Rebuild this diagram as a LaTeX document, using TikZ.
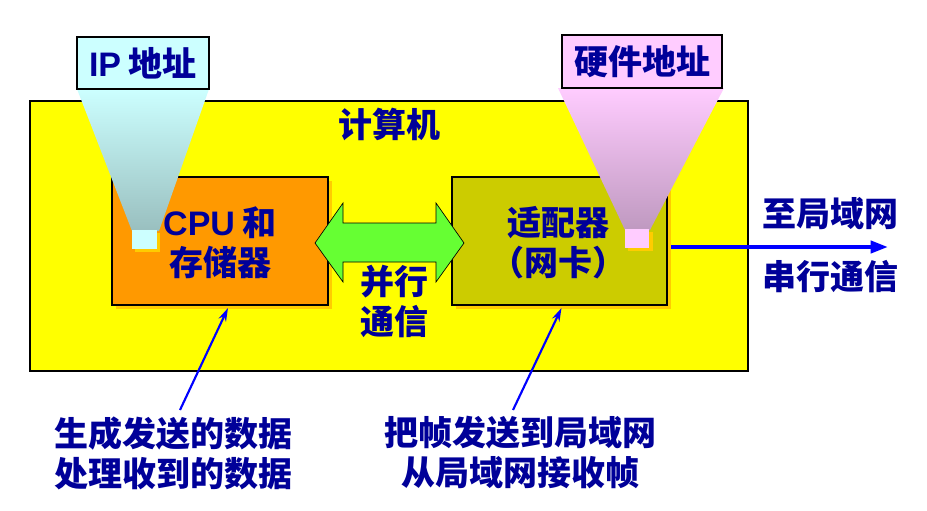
\documentclass[tikz,border=0pt]{standalone}
\usepackage{fontspec}
\setmainfont{Noto Sans CJK SC}
\newfontfamily\lat{Liberation Sans}
\usetikzlibrary{arrows.meta,fit,calc}
\definecolor{txt}{HTML}{000099}
\definecolor{bgyellow}{HTML}{FFFF00}
\definecolor{cpuorange}{HTML}{FF9900}
\definecolor{olive}{HTML}{CCCC00}
\definecolor{shad}{HTML}{FFCC00}
\definecolor{arrgreen}{HTML}{66FF33}
\definecolor{ipcyan}{HTML}{CCFFFF}
\definecolor{ipdark}{HTML}{99BFBF}
\definecolor{hwpink}{HTML}{FFCCFF}
\definecolor{hwdark}{HTML}{BF99C0}
\definecolor{linkblue}{HTML}{0000FF}
\tikzset{
  lbl/.style={font=\fontsize{25.5}{30}\selectfont\bfseries, text=txt, align=center, inner sep=0pt},
  boxnode/.style={inner sep=0pt, draw=black, line width=1.5pt},
  tagbox/.style={inner sep=0pt, draw=black, line width=0.8pt},
  ptr/.style={draw=linkblue, line width=1.6pt, -{Stealth[length=10pt,width=6pt]}},
  bigarr/.style={draw=linkblue, line width=3pt, -{Triangle[length=13pt,width=9pt]}}
}
\begin{document}
\begin{tikzpicture}[x=0.75pt,y=-0.75pt]
\useasboundingbox (0,0) rectangle (927,510);
\fill[white] (0,0) rectangle (927,510);
% computer
\node[fit={(30,101)(748,371)}, inner sep=0pt, draw=black, line width=0.8pt, fill=bgyellow] (comp) {};
\node[lbl] (comptxt) at (389,124) {计算机};
% shadows
\fill[shad] (116,181) rectangle (332,309);
\fill[shad] (456,181) rectangle (671,309);
% boxes
\node[boxnode, fill=cpuorange, fit={(112,177)(328,305)}] (cpu) {};
\node[boxnode, fill=olive, fit={(452,177)(667,305)}] (nic) {};
\node[lbl] (cputxt) at (220,243) {{\lat CPU} 和\\存储器};
\node[lbl] (nictxt) at (558,243) {适配器\\（网卡）};
% parallel arrow
\draw[black, line width=0.5pt, fill=arrgreen]
  (315,243) -- (343,203) -- (343,223) -- (436,223) -- (436,203) -- (464,243)
  -- (436,282) -- (436,262) -- (343,262) -- (343,282) -- cycle;
\node[lbl] (partxt) at (394,301) {并行\\通信};
% funnels
\shade[top color=ipcyan, bottom color=ipdark] (77,89) -- (209,89) -- (159,231) -- (132,231) -- cycle;
\shade[top color=hwpink, bottom color=hwdark] (558,88) -- (724,88) -- (650,230) -- (625,230) -- cycle;
\fill[shad] (135,233) rectangle (160,252);
\fill[ipcyan] (132,230) rectangle (157,249);
\fill[shad] (628,232) rectangle (653,251);
\fill[hwpink] (625,229) rectangle (649,248);
% tags
\node[tagbox, fill=ipcyan, fit={(77,37)(209,89)}] (iptag) {};
\node[lbl] (iptxt) at (iptag.center) {{\lat IP} 地址};
\node[tagbox, fill=hwpink, fit={(562,35)(722,88)}] (hwtag) {};
\node[lbl] (hwtxt) at (hwtag.center) {硬件地址};
% serial link
\coordinate (lanend) at (888,247);
\draw[bigarr] ($(nic.east)+(3,6)$) -- (lanend);
\node[lbl] (lan1) at (830,214) {至局域网};
\node[lbl] (lan2) at (830,277) {串行通信};
% bottom notes
\node[lbl] (note1) at (173,453) {生成发送的数据\\处理收到的数据};
\node[lbl] (note2) at (520,453) {把帧发送到局域网\\从局域网接收帧};
\coordinate (n1s) at (180,410);
\coordinate (n2s) at (513,410);
\draw[ptr] (n1s) -- ($(cpu.south)+(8,2)$);
\draw[ptr] (n2s) -- ($(nic.south)+(2,2)$);
\end{tikzpicture}
\end{document}
